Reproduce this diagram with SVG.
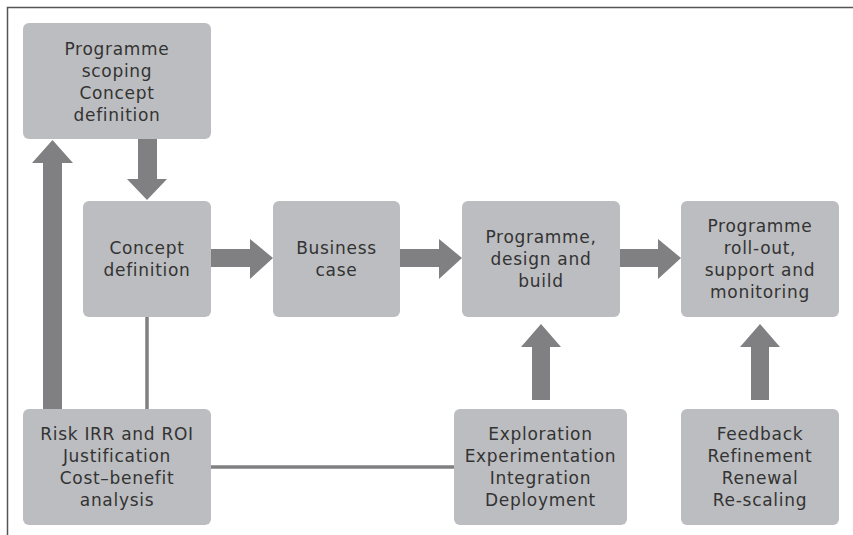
<svg xmlns="http://www.w3.org/2000/svg" width="853" height="535" viewBox="0 0 853 535">
<style>
.box{fill:#bcbdc0}
.arr{fill:#808083}
.ln{stroke:#808083;stroke-width:3.5;fill:none}
.frame{stroke:#555;stroke-width:1.5;fill:none}
text{font-family:"DejaVu Sans","Liberation Sans",sans-serif;font-size:17px;letter-spacing:0.7px;fill:#333;text-anchor:middle}
</style>
<rect width="853" height="535" fill="#fff"/>
<path class="frame" d="M7.5,535 V7.5 H853"/>
<g id="connectors">
<line class="ln" x1="147" y1="317" x2="147" y2="409"/>
<line class="ln" x1="211" y1="467" x2="454" y2="467"/>
<polygon class="arr" points="138,139 157,139 157,179 167,179 147,200 127,179 138,179"/>
<polygon class="arr" points="43,409 43,163 32,163 52.5,140 73,163 62,163 62,409"/>
<polygon class="arr" points="211,249 250,249 250,239 273,258 250,279 250,267 211,267"/>
<polygon class="arr" points="400,249 439,249 439,239 462,258 439,279 439,267 400,267"/>
<polygon class="arr" points="620,249 658,249 658,239 681,258 658,279 658,267 620,267"/>
<polygon class="arr" points="532,400 532,347 521,347 541,324 561,347 550,347 550,400"/>
<polygon class="arr" points="751,400 751,347 740,347 760,324 780,347 769,347 769,400"/>
</g>
<g id="scoping">
<rect class="box" x="23" y="23" width="188" height="116" rx="6"/>
<text x="117" y="55">Programme</text>
<text x="117" y="77">scoping</text>
<text x="117" y="99">Concept</text>
<text x="117" y="121">definition</text>
</g>
<g id="concept">
<rect class="box" x="83" y="201" width="128" height="116" rx="6"/>
<text x="147" y="254">Concept</text>
<text x="147" y="276">definition</text>
</g>
<g id="business">
<rect class="box" x="273" y="201" width="127" height="116" rx="6"/>
<text x="336.5" y="254">Business</text>
<text x="336.5" y="276">case</text>
</g>
<g id="design">
<rect class="box" x="462" y="201" width="158" height="116" rx="6"/>
<text x="541" y="243">Programme,</text>
<text x="541" y="265">design and</text>
<text x="541" y="287">build</text>
</g>
<g id="rollout">
<rect class="box" x="681" y="201" width="158" height="116" rx="6"/>
<text x="760" y="232">Programme</text>
<text x="760" y="254">roll-out,</text>
<text x="760" y="276">support and</text>
<text x="760" y="298">monitoring</text>
</g>
<g id="risk">
<rect class="box" x="23" y="409" width="188" height="116" rx="6"/>
<text x="117" y="440">Risk IRR and ROI</text>
<text x="117" y="462">Justification</text>
<text x="117" y="484">Cost–benefit</text>
<text x="117" y="506">analysis</text>
</g>
<g id="exploration">
<rect class="box" x="454" y="409" width="173" height="116" rx="6"/>
<text x="540.5" y="440">Exploration</text>
<text x="540.5" y="462">Experimentation</text>
<text x="540.5" y="484">Integration</text>
<text x="540.5" y="506">Deployment</text>
</g>
<g id="feedback">
<rect class="box" x="681" y="409" width="158" height="116" rx="6"/>
<text x="760" y="440">Feedback</text>
<text x="760" y="462">Refinement</text>
<text x="760" y="484">Renewal</text>
<text x="760" y="506">Re-scaling</text>
</g>
</svg>
